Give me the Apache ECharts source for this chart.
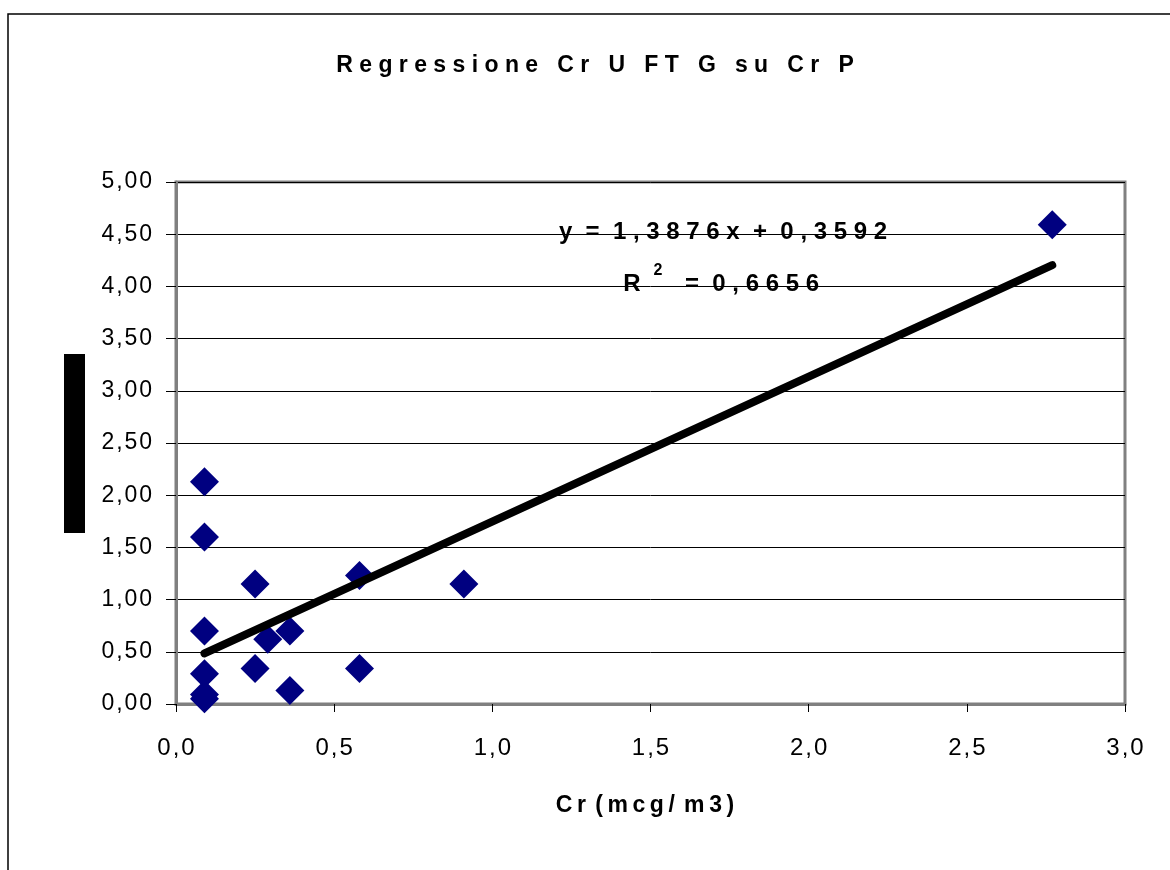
<!DOCTYPE html>
<html><head><meta charset="utf-8">
<script src="https://cdn.jsdelivr.net/npm/echarts@6/dist/echarts.min.js"></script>
<style>html,body{margin:0;padding:0;background:#fff}#c{width:1170px;height:870px}</style>
</head><body><div id="c"></div>
<script>
const xValues = [0.09, 0.09, 0.09, 0.09, 0.09, 0.09, 0.25, 0.25, 0.29, 0.36, 0.36, 0.58, 0.58, 0.91, 2.77];
const yValues = [2.13, 1.60, 0.70, 0.29, 0.09, 0.05, 1.15, 0.34, 0.62, 0.70, 0.13, 1.23, 0.34, 1.15, 4.59];
const slope = 1.3876, intercept = 0.3592, r2 = 0.6656;
const trendRange = [0.09, 2.77];
const titleText = 'R e g r e s s i o n e   C r   U   F T   G   s u   C r   P';
const xTitle = 'C\u2009r\u2009\u2009(\u2009m\u2009c\u2009g\u2009/\u2009\u2009m\u20093\u2009)';
const eqText = 'y  =  1 , 3 8 7 6 x  +  0 , 3 5 9 2';
const r2Text = '=  0 , 6 6 5 6';

const sp = s => s.split('').join('\u200A');
const chart = echarts.init(document.getElementById('c'), null, {renderer:'canvas'});
const pts = xValues.map((x,i)=>[x, yValues[i]]);
const trend = trendRange.map(x=>[x, slope*x+intercept]);
const font = '"Liberation Sans Narrow", "Arial Narrow", "Liberation Sans", sans-serif';
chart.setOption({
  backgroundColor:'#fff',
  animation:false,
  grid:{left:176,right:45,top:182,bottom:166,show:true,borderColor:'#808080',borderWidth:3,backgroundColor:'transparent'},
  xAxis:{type:'value',min:0,max:3,interval:0.5,
    axisLine:{show:true,onZero:false,lineStyle:{color:'#808080',width:3}},
    axisTick:{show:true,length:8,lineStyle:{color:'#000',width:1}},
    splitLine:{show:false},
    axisLabel:{margin:44,fontFamily:font,fontSize:24,color:'#000',verticalAlign:'middle',formatter:v=>sp(v.toFixed(1).replace('.',','))}},
  yAxis:{type:'value',min:0,max:5,interval:0.5,
    axisLine:{show:true,onZero:false,lineStyle:{color:'#808080',width:3}},
    axisTick:{show:true,length:10,lineStyle:{color:'#000',width:1}},
    splitLine:{show:true,lineStyle:{color:'#000',width:1}},
    axisLabel:{margin:24,fontFamily:font,fontSize:23,color:'#000',formatter:v=>sp(v.toFixed(2).replace('.',','))}},
  graphic:[
    {type:'rect',shape:{x:8,y:14,width:1200,height:900},style:{fill:'none',stroke:'#000',lineWidth:1.5},z:-1},
    {type:'rect',shape:{x:64,y:354,width:21,height:179},style:{fill:'#000'}},
    {type:'text',x:595,y:66,style:{text:titleText,font:'bold 23px '+font,fill:'#000',align:'center',verticalAlign:'middle'}},
    {type:'text',x:645,y:806,style:{text:xTitle,font:'bold 23px '+font,fill:'#000',align:'center',verticalAlign:'middle'}},
    {type:'text',x:723,y:232,style:{text:eqText,font:'bold 24px '+font,fill:'#000',align:'center',verticalAlign:'middle'}},
    {type:'text',x:632,y:284,style:{text:'R',font:'bold 24px '+font,fill:'#000',align:'center',verticalAlign:'middle'}},
    {type:'text',x:658,y:271,style:{text:'2',font:'bold 16px '+font,fill:'#000',align:'center',verticalAlign:'middle'}},
    {type:'text',x:752,y:284,style:{text:r2Text,font:'bold 24px '+font,fill:'#000',align:'center',verticalAlign:'middle'}}
  ],
  series:[
    {type:'scatter',data:pts,symbol:'diamond',symbolSize:29,itemStyle:{color:'#000080',opacity:1},z:3},
    {type:'line',data:trend,symbol:'none',lineStyle:{color:'#000',width:8,cap:'round'},z:4}
  ]
});
</script></body></html>
